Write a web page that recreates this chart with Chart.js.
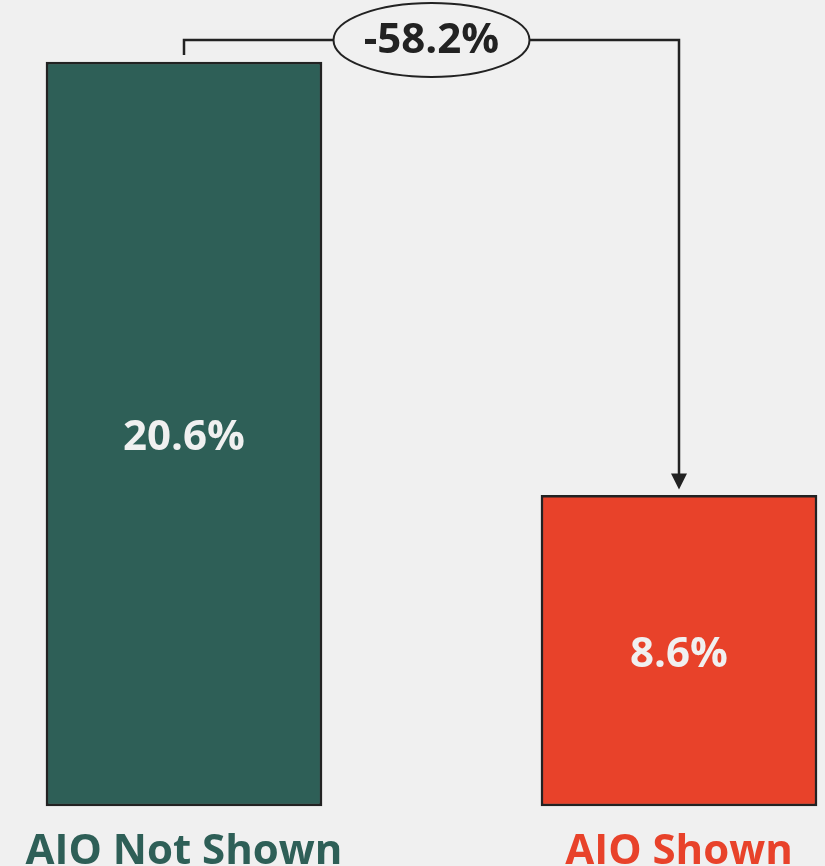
<!DOCTYPE html>
<html>
<head>
<meta charset="utf-8">
<script src="https://cdn.jsdelivr.net/npm/chart.js@4.4.1/dist/chart.umd.min.js"></script>
<style>
  html, body { margin: 0; padding: 0; background: #f0f0f0; }
  #wrap { width: 825px; height: 866px; position: relative; }
</style>
</head>
<body>
<div id="wrap"><canvas id="chart_1"></canvas></div>
<script>
// CTR with / without AI overview
const labels = ['AIO Not Shown', 'AIO Shown'];
const values = [20.6, 8.6];
const barColors = ['#2e5f57', '#e8422a'];
const changeLabel = '-58.2%';

const FONT = "'Open Sans', 'Noto Sans', sans-serif";

// value text in the middle of each bar
const barValues = {
    id: 'barValues',
    afterDatasetsDraw(chart) {
        const ctx = chart.ctx;
        const meta = chart.getDatasetMeta(0);
        ctx.save();
        ctx.font = 'bold 42px ' + FONT;
        ctx.fillStyle = '#f0f0f0';
        ctx.textAlign = 'center';
        ctx.textBaseline = 'middle';
        meta.data.forEach((bar, i) => {
            ctx.fillText(values[i].toFixed(1) + '%', bar.x, (bar.y + bar.base) / 2 + 4);
        });
        ctx.restore();
    }
};

// bracket + arrow from first bar to second, with the change in an ellipse
const changeArrow = {
    id: 'changeArrow',
    afterDatasetsDraw(chart) {
        const ctx = chart.ctx;
        const meta = chart.getDatasetMeta(0);
        const a = meta.data[0], b = meta.data[1];
        const lineY = a.y - 22;
        const midX = (a.x + b.x) / 2;
        const rx = 98, ry = 37;

        ctx.save();
        ctx.strokeStyle = '#222';
        ctx.fillStyle = '#222';
        ctx.lineWidth = 2.5;

        ctx.beginPath();
        ctx.moveTo(a.x, a.y - 7);
        ctx.lineTo(a.x, lineY);
        ctx.lineTo(midX - rx, lineY);
        ctx.moveTo(midX + rx, lineY);
        ctx.lineTo(b.x, lineY);
        ctx.lineTo(b.x, b.y - 20);
        ctx.stroke();

        // arrow head
        ctx.beginPath();
        ctx.moveTo(b.x - 8, b.y - 22);
        ctx.lineTo(b.x + 8, b.y - 22);
        ctx.lineTo(b.x, b.y - 6);
        ctx.closePath();
        ctx.fill();

        ctx.beginPath();
        ctx.ellipse(midX, lineY, rx, ry, 0, 0, Math.PI * 2);
        ctx.fillStyle = '#f0f0f0';
        ctx.fill();
        ctx.lineWidth = 2;
        ctx.stroke();

        ctx.font = 'bold 42px ' + FONT;
        ctx.fillStyle = '#222';
        ctx.textAlign = 'center';
        ctx.textBaseline = 'middle';
        ctx.fillText(changeLabel, midX, lineY + 1);
        ctx.restore();
    }
};

new Chart(document.getElementById('chart_1'), {
    type: 'bar',
    data: {
        labels: labels,
        datasets: [{
            data: values,
            backgroundColor: barColors,
            borderColor: '#222',
            borderWidth: 2.5,
            borderSkipped: false,
            barThickness: 276,
            clip: false
        }]
    },
    options: {
        responsive: true,
        maintainAspectRatio: false,
        animation: false,
        layout: { padding: { top: 62, left: 184, right: 146, bottom: 0 } },
        plugins: { legend: { display: false }, tooltip: { enabled: false } },
        scales: {
            x: {
                offset: false,
                grid: { display: false },
                border: { display: false },
                afterFit: s => { s.height = 60; },
                ticks: {
                    padding: 13,
                    maxRotation: 0,
                    autoSkip: false,
                    color: barColors,
                    font: { family: FONT, size: 42, weight: 'bold' }
                }
            },
            y: { display: false, min: 0, max: 20.6 }
        }
    },
    plugins: [barValues, changeArrow]
});
</script>
</body>
</html>
